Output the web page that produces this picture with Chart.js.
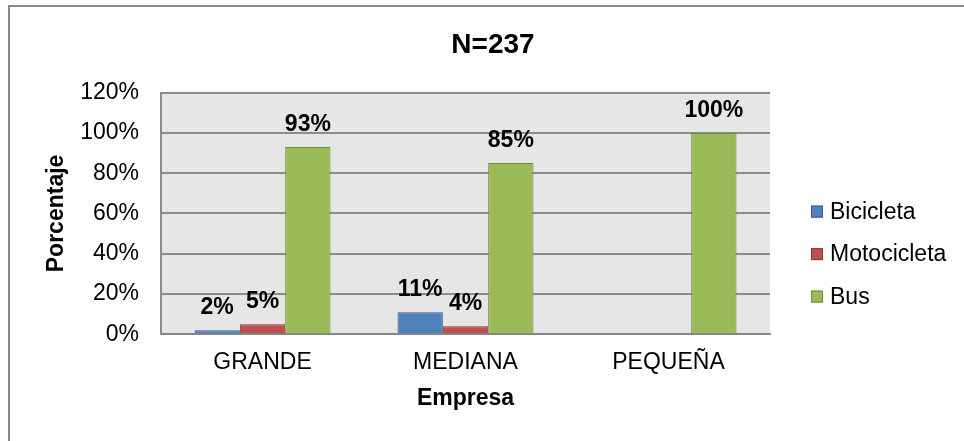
<!DOCTYPE html>
<html>
<head>
<meta charset="utf-8">
<script src="https://cdn.jsdelivr.net/npm/chart.js@4.4.1/dist/chart.umd.min.js"></script>
<style>
  html, body { margin: 0; padding: 0; background: #fff; }
  #wrap { width: 964px; height: 441px; position: relative; }
</style>
</head>
<body>
<div id="wrap"><canvas id="grafico"></canvas></div>
<script>
// Datos del gráfico
const empresas = ['GRANDE', 'MEDIANA', 'PEQUEÑA'];
const bicicleta = [2, 11, null];
const motocicleta = [5, 4, null];
const bus = [93, 85, 100];
const ticksY = [0, 20, 40, 60, 80, 100, 120];

const fuente = 'Liberation Sans, Arial, sans-serif';

// Fondo gris del área de trazado y marco exterior
const fondo = {
  id: 'fondo',
  beforeDraw(chart) {
    const ctx = chart.ctx;
    const a = chart.chartArea;
    ctx.save();
    ctx.fillStyle = '#fff';
    ctx.fillRect(0, 0, chart.width, chart.height);
    ctx.strokeStyle = '#8a8a8a';
    ctx.lineWidth = 2;
    ctx.beginPath();
    ctx.moveTo(9, chart.height);
    ctx.lineTo(9, 6);
    ctx.lineTo(chart.width, 6);
    ctx.stroke();
    ctx.fillStyle = '#e6e6e6';
    ctx.fillRect(a.left, a.top, a.right - a.left, a.bottom - a.top);
    ctx.restore();
  }
};

// Etiquetas de valor encima de cada barra
const etiquetas = {
  id: 'etiquetas',
  afterDatasetsDraw(chart) {
    const ctx = chart.ctx;
    ctx.save();
    ctx.font = 'bold 23px ' + fuente;
    ctx.fillStyle = '#000';
    ctx.textAlign = 'center';
    ctx.textBaseline = 'alphabetic';
    chart.data.datasets.forEach((ds, i) => {
      const meta = chart.getDatasetMeta(i);
      meta.data.forEach((bar, j) => {
        const v = ds.data[j];
        if (v === null || v === undefined) return;
        ctx.fillText(v + '%', bar.x, bar.y - 16);
      });
    });
    ctx.restore();
  }
};

// Leyenda a la derecha del área de trazado
const leyenda = {
  id: 'leyenda',
  afterDraw(chart) {
    const ctx = chart.ctx;
    const a = chart.chartArea;
    const x = a.right + 41;
    ctx.save();
    ctx.font = '23px ' + fuente;
    ctx.textAlign = 'left';
    ctx.textBaseline = 'middle';
    chart.data.datasets.forEach((ds, i) => {
      const y = a.top + 119 + i * 42.5;
      ctx.fillStyle = ds.backgroundColor;
      ctx.fillRect(x, y - 6, 12, 12);
      ctx.strokeStyle = ds.borderColor;
      ctx.lineWidth = 1;
      ctx.strokeRect(x + 0.5, y - 5.5, 11, 11);
      ctx.fillStyle = '#000';
      ctx.fillText(ds.label, x + 19, y + 1);
    });
    ctx.restore();
  }
};

new Chart(document.getElementById('grafico'), {
  type: 'bar',
  data: {
    labels: empresas,
    datasets: [
      { label: 'Bicicleta', data: bicicleta, backgroundColor: '#4f81bd', borderColor: '#385d8a', borderWidth: 1 },
      { label: 'Motocicleta', data: motocicleta, backgroundColor: '#c0504d', borderColor: '#8c3836', borderWidth: 1 },
      { label: 'Bus', data: bus, backgroundColor: '#9bbb59', borderColor: '#71893f', borderWidth: 1 }
    ]
  },
  options: {
    responsive: true,
    maintainAspectRatio: false,
    animation: false,
    layout: { padding: { left: 22, right: 0, top: 0, bottom: 29 } },
    datasets: { bar: { categoryPercentage: 0.67, barPercentage: 1 } },
    plugins: {
      tooltip: { enabled: false },
      legend: { display: false },
      title: {
        display: true,
        text: 'N=237',
        color: '#000',
        font: { family: fuente, size: 28, weight: 'bold' },
        padding: { top: 28, bottom: 31 }
      }
    },
    scales: {
      x: {
        grid: { display: false, drawTicks: false },
        border: { color: '#868686', width: 2 },
        ticks: { color: '#000', font: { family: fuente, size: 23 }, padding: 15 },
        title: {
          display: true,
          text: 'Empresa',
          color: '#000',
          font: { family: fuente, size: 23, weight: 'bold' },
          padding: { top: -7.5, bottom: 0 }
        }
      },
      y: {
        min: 0,
        max: 120,
        afterBuildTicks(scale) {
          scale.ticks = ticksY.map(v => ({ value: v }));
        },
        grid: { color: '#8c8c8c', lineWidth: 2, drawTicks: false },
        border: { color: '#8c8c8c', width: 2 },
        ticks: {
          color: '#000',
          font: { family: fuente, size: 23 },
          padding: 22,
          callback: v => v + '%'
        },
        title: {
          display: true,
          text: 'Porcentaje',
          color: '#000',
          font: { family: fuente, size: 23, weight: 'bold' },
          padding: { top: 21, bottom: -12.4 }
        }
      },
      // espacio reservado para la leyenda
      hueco: {
        type: 'linear',
        position: 'right',
        display: true,
        grid: { display: false, drawTicks: false },
        border: { display: false },
        ticks: { display: false },
        afterFit(scale) { scale.width = 194; }
      }
    }
  },
  plugins: [fondo, etiquetas, leyenda]
});
</script>
</body>
</html>
